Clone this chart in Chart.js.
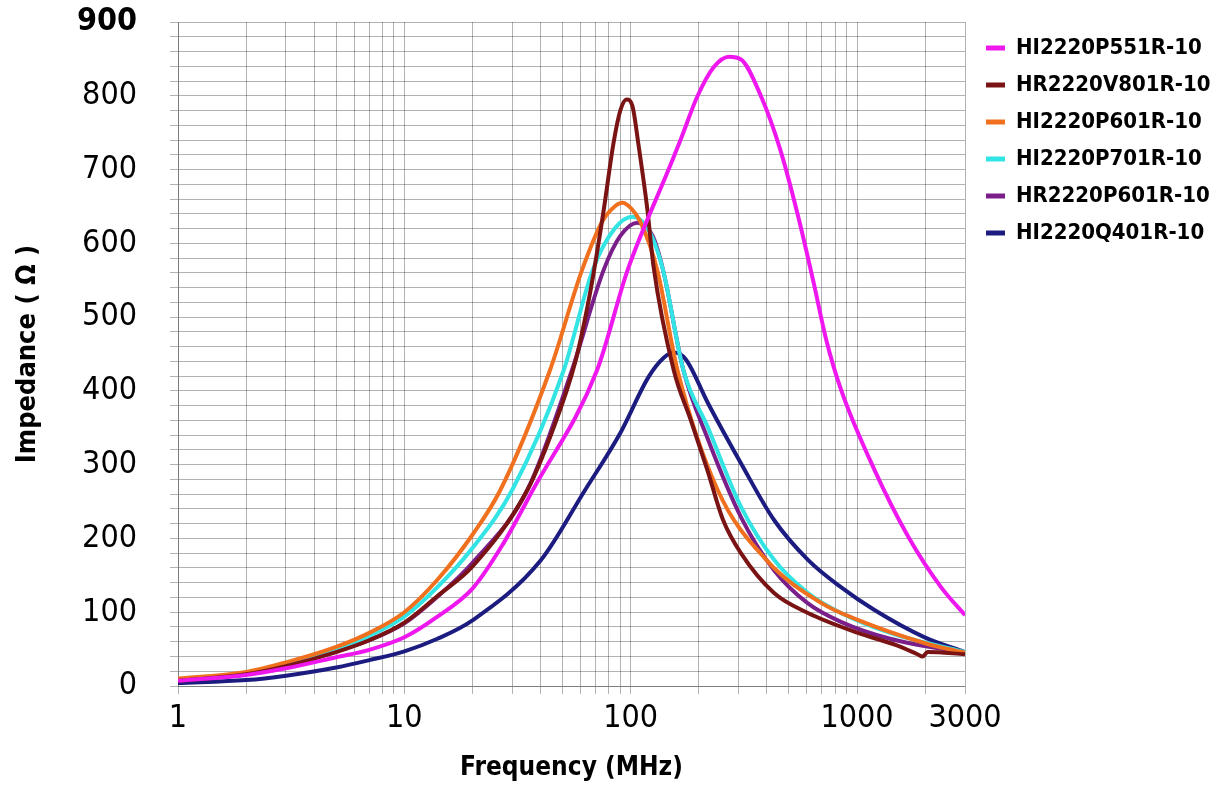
<!DOCTYPE html>
<html>
<head>
<meta charset="utf-8">
<script src="https://cdn.jsdelivr.net/npm/chart.js@4.4.1/dist/chart.umd.min.js"></script>
<style>
html,body{margin:0;padding:0;background:#ffffff;}
canvas{display:block;}
</style>
</head>
<body>
<canvas id="c" width="1223" height="787"></canvas>
<script>
// ---------- data ----------
const seriesNames = ['HI2220P551R-10','HR2220V801R-10','HI2220P601R-10','HI2220P701R-10','HR2220P601R-10','HI2220Q401R-10'];
const seriesColors = ['#ee18ee','#7a1414','#f0701e','#33e4e4','#7a1f8a','#1c1c80'];

const freqP551 = [1,2,3,5,7,10,14,20,27,37,71,97,147,166,197,233,272,308,377,458,550,645,730,849,1194,1687,2350,3000];
const zP551    = [7,15,24,39,49,66,94,132,190,266,428,564,700,740,799,839,853,849,799,727,636,545,470,402,293,202,134,96];

const freqV801 = [1,2,3,5,7,10,14,20,35,45,57,64.5,68.6,76,84,90,96,102,108,118.6,126,155,184,218,256,307,430,607,1010,1500,1850,1950,2050,3000];
const zV801    = [7,16,27,46,62,86,122,162,266,345,440,515,560,645,736,780,795,785,736,645,570,428,361,293,225,180,126,99,72,55,43,40,46,43];

const freqP601 = [1,2,3,5,7,10,14,20,26.6,44,61,75,85,92,100,110,131,161,242,400,700,1000,2000,3000];
const zP601    = [10,19,32,53,72,100,144,205,266,428,564,630,650,655,648,630,564,428,266,170,112,90,58,45];

const freqP701 = [1,2,3,5,7,10,14,20,30,50.6,68,85,102,120,139,171,219,307,430,607,849,1400,3000];
const zP701    = [9,18,30,51,68,94,134,187,266,428,564,620,636,618,564,428,351,243,171,126,99,72,46];

const freqHP601 = [1,2,3,5,7,10,14,20,35,55,76,90,107,125,139,171,219,307,430,607,849,1400,3000];
const zHP601    = [8,16,28,47,62,85,121,167,266,428,564,610,628,610,564,428,335,229,157,112,87,64,45];

const freqQ401 = [1,2,3,5,7,10,14,20,40,63,90,120,140,155,175,219,307,430,607,849,1194,1990,3000];
const zQ401    = [4,8,14,25,35,47,64,89,170,266,343,419,445,452,443,384,302,225,171,134,103,66,46];

const xGridFreqs  = [1,2,3,4,5,6,7,8,9,10,20,30,40,50,60,70,80,90,100,200,300,400,500,600,700,800,900,1000,2000,3000];
const xLabelFreqs = [1,10,100,1000,3000];
const yMin = 0, yMax = 900, yGridStep = 20, yLabelStep = 100;

// ---------- chart ----------
const FONT = '"Liberation Sans Narrow", "DejaVu Sans Condensed", "Open Sans", sans-serif';
const GRID = 'rgba(0,0,0,0.3)';

const allFreqs = [freqP551, freqV801, freqP601, freqP701, freqHP601, freqQ401];
const allZ     = [zP551, zV801, zP601, zP701, zHP601, zQ401];

const datasets = seriesNames.map((name, i) => ({
  label: name,
  data: allFreqs[i].map((f, j) => ({x: f, y: allZ[i][j]})),
  borderColor: seriesColors[i],
  backgroundColor: seriesColors[i],
  borderWidth: 4,
  pointRadius: 0,
  cubicInterpolationMode: 'monotone',
  yAxisID: 'y'
}));

const LEGEND_W = 252;
const legendWidthPlugin = {
  id: 'legendWidth',
  beforeUpdate(chart) {
    const lg = chart.legend;
    if (lg && !lg._fixedW) {
      const orig = lg.fit;
      lg.fit = function () { orig.call(this); this.width = LEGEND_W; };
      lg._fixedW = true;
    }
  }
};

new Chart(document.getElementById('c'), {
  type: 'line',
  data: { datasets },
  plugins: [legendWidthPlugin],
  options: {
    responsive: false,
    animation: false,
    devicePixelRatio: 1,
    layout: { padding: { left: 0, right: 0, top: 0, bottom: 0 } },
    plugins: {
      tooltip: { enabled: false },
      legend: {
        position: 'right',
        align: 'start',
        fullSize: false,
        labels: {
          boxWidth: 19,
          boxHeight: 5,
          padding: 15,
          color: '#000',
          font: { family: FONT, size: 22, weight: 'bold' },
          generateLabels(chart) {
            return Chart.defaults.plugins.legend.labels.generateLabels(chart).map(l => Object.assign(l, {lineWidth: 0}));
          }
        }
      }
    },
    scales: {
      x: {
        type: 'logarithmic',
        min: 1,
        max: 3000,
        afterBuildTicks(scale) { scale.ticks = xGridFreqs.map(v => ({value: v})); },
        afterFit(scale) { scale.height = 101; scale.paddingLeft = 0; scale.paddingRight = 0; },
        grid: { color: GRID, lineWidth: 1, drawTicks: true, tickLength: 8, tickColor: GRID },
        border: { display: true, color: GRID, width: 1 },
        ticks: {
          autoSkip: false, maxRotation: 0, minRotation: 0,
          padding: 5, color: '#000',
          font: { family: FONT, size: 32 },
          callback: (v) => xLabelFreqs.includes(v) ? String(v) : ''
        },
        title: {
          display: true, text: 'Frequency (MHz)', color: '#000',
          font: { family: FONT, size: 26, weight: 'bold' },
          padding: { top: 0, bottom: 3 }
        }
      },
      y: {
        type: 'linear',
        position: 'left',
        min: yMin, max: yMax,
        afterFit(scale) { scale.width = 178; scale.paddingTop = 22; scale.paddingBottom = 0; },
        grid: { color: GRID, lineWidth: 1, drawTicks: true, tickLength: 8, tickColor: GRID },
        border: { display: true, color: GRID, width: 1 },
        ticks: {
          stepSize: yGridStep, autoSkip: false, padding: 33, color: '#000',
          font: (ctx) => ({ family: FONT, size: 32, weight: (ctx.tick && ctx.tick.value === yMax) ? 'bold' : 'normal' }),
          callback: (v) => (v % yLabelStep === 0) ? String(v) : ''
        },
        title: {
          display: true, text: 'Impedance ( Ω )', color: '#000',
          font: { family: FONT, size: 27, weight: 'bold' },
          padding: { top: 12, bottom: 0 }
        }
      },
      yR: {
        type: 'linear',
        position: 'right',
        min: yMin, max: yMax,
        afterFit(scale) { scale.width = 6; },
        grid: { display: false, drawTicks: false },
        border: { display: false },
        ticks: { display: false }
      }
    }
  }
});
</script>
</body>
</html>
